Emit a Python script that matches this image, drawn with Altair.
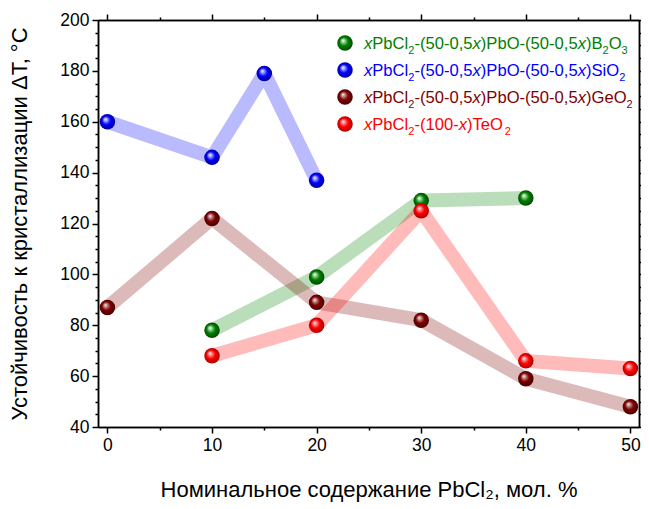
import altair as alt
import pandas as pd

# ---------------- data ----------------
x_b2o3 = [10, 20, 30, 40]
y_b2o3 = [78, 99, 129, 130]
x_sio2 = [0, 10, 15, 20]
y_sio2 = [160, 146, 179, 137]
x_geo2 = [0, 10, 20, 30, 40, 50]
y_geo2 = [87, 122, 89, 82, 59, 48]
x_teo2 = [10, 20, 30, 40, 50]
y_teo2 = [68, 80, 125, 66, 63]

series_names = ["B2O3", "SiO2", "GeO2", "TeO2"]
series_colors = ["#008000", "#0000ff", "#800000", "#ff0000"]
series_light = ["#9fdc9f", "#a8a8ff", "#c79a9a", "#ff9a9a"]
series_dark = ["#004000", "#00008a", "#400000", "#a00000"]

legend_segments = [
    [("x", "i"), ("PbCl", "n"), ("2", "s"), ("-(50-0,5", "n"), ("x", "i"), (")PbO-(50-0,5", "n"),
     ("x", "i"), (")B", "n"), ("2", "s"), ("O", "n"), ("3", "s")],
    [("x", "i"), ("PbCl", "n"), ("2", "s"), ("-(50-0,5", "n"), ("x", "i"), (")PbO-(50-0,5", "n"),
     ("x", "i"), (")SiO", "n"), ("2", "s")],
    [("x", "i"), ("PbCl", "n"), ("2", "s"), ("-(50-0,5", "n"), ("x", "i"), (")PbO-(50-0,5", "n"),
     ("x", "i"), (")GeO", "n"), ("2", "s")],
    [("x", "i"), ("PbCl", "n"), ("2", "s"), ("-(100-", "n"), ("x", "i"), (")TeO", "n"), ("2", "s")],
]

x_title = "Номинальное содержание PbCl\u2082, мол. %"
y_title = "Устойчивость к кристаллизации \u0394T, \u00b0C"

# ---------------- layout ----------------
W, H = 541, 407
PXU = 10.46
X0 = -0.9
X1 = X0 + W / PXU
Y0, Y1 = 40, 200
FONT = "Liberation Sans"
FS = 16.6
FS_SUB = 11


def px2x(px):
    return X0 + px * (X1 - X0) / W


def py2y(py):
    return Y1 - py * (Y1 - Y0) / H


ARIAL = {' ': 278, '(': 333, ')': 333, ',': 278, '-': 333, 'B': 667, 'C': 722, 'G': 778,
         'O': 778, 'P': 667, 'S': 667, 'T': 611, 'b': 556, 'e': 556, 'i': 222, 'l': 222, 'x': 500}


def tw(s, fs):
    return sum(ARIAL.get(c, 556) for c in s) / 1000.0 * fs


xs = alt.Scale(domain=[X0, X1], nice=False, zero=False)
ys = alt.Scale(domain=[Y0, Y1], nice=False, zero=False)

frames = []
for name, xv, yv in zip(series_names, [x_b2o3, x_sio2, x_geo2, x_teo2],
                        [y_b2o3, y_sio2, y_geo2, y_teo2]):
    frames.append(pd.DataFrame({"x": xv, "y": yv, "s": name}))

layers = []

dummy = pd.DataFrame({"x": [0], "y": [100]})
maj_x = list(range(0, 51, 10))
min_x = [v for v in range(5, 51, 10)]
maj_y = list(range(40, 201, 20))
min_y = [v for v in range(40, 201, 5) if v % 20 != 0]


def axis_layer(xorient, yorient, xvals, yvals, labels, tsize):
    return alt.Chart(dummy).mark_point(opacity=0).encode(
        x=alt.X("x:Q", scale=xs,
                axis=alt.Axis(orient=xorient, values=xvals, labels=labels, tickSize=tsize,
                              title=x_title if labels else None, grid=False)),
        y=alt.Y("y:Q", scale=ys,
                axis=alt.Axis(orient=yorient, values=yvals, labels=labels, tickSize=tsize,
                              title=y_title if labels else None, grid=False)),
    )


layers.append(axis_layer("bottom", "left", maj_x, maj_y, True, 6))
layers.append(axis_layer("bottom", "left", min_x, min_y, False, 3))
layers.append(axis_layer("top", "right", maj_x, maj_y, False, 6))
layers.append(axis_layer("top", "right", min_x, min_y, False, 3))

for df, col in zip(frames, series_colors):
    layers.append(alt.Chart(df).mark_line(color=col, opacity=0.27, strokeWidth=14,
                                          strokeJoin="bevel", strokeCap="butt").encode(
        x=alt.X("x:Q", scale=xs, axis=None), y=alt.Y("y:Q", scale=ys, axis=None)))


def sphere(col, light, dark):
    return alt.RadialGradient(
        gradient="radial", x1=0.36, y1=0.33, r1=0.0, x2=0.5, y2=0.5, r2=0.55,
        stops=[alt.GradientStop(color="#ffffff", offset=0.0),
               alt.GradientStop(color=light, offset=0.18),
               alt.GradientStop(color=col, offset=0.5),
               alt.GradientStop(color=dark, offset=1.0)])


for df, col, lt, dk in zip(frames, series_colors, series_light, series_dark):
    layers.append(alt.Chart(df).mark_point(shape="circle", filled=True, size=240, opacity=1,
                                           fill=sphere(col, lt, dk), strokeWidth=0).encode(
        x=alt.X("x:Q", scale=xs, axis=None), y=alt.Y("y:Q", scale=ys, axis=None)))

rows = []
mk = []
for i, (segs, col) in enumerate(zip(legend_segments, series_colors)):
    cy = 23 + 27 * i
    mk.append({"x": px2x(247), "y": py2y(cy), "c": col})
    cur = 266
    for text, st in segs:
        fs = FS_SUB if st == "s" else FS
        base = cy + 6 + (5 if st == "s" else 0)
        rows.append({"x": px2x(cur), "y": py2y(base), "t": text, "st": st, "c": col})
        cur += tw(text, fs)
leg = pd.DataFrame(rows)

for i, col in enumerate(series_colors):
    layers.append(alt.Chart(pd.DataFrame([mk[i]])).mark_point(
        shape="circle", filled=True, size=240, opacity=1,
        fill=sphere(col, series_light[i], series_dark[i]), strokeWidth=0).encode(
        x=alt.X("x:Q", scale=xs, axis=None), y=alt.Y("y:Q", scale=ys, axis=None)))

for st, fs, fstyle in [("n", FS, "normal"), ("i", FS, "italic"), ("s", FS_SUB, "normal")]:
    layers.append(alt.Chart(leg).transform_filter(alt.datum.st == st).mark_text(
        align="left", baseline="alphabetic", font=FONT, fontSize=fs, fontStyle=fstyle).encode(
        x=alt.X("x:Q", scale=xs, axis=None), y=alt.Y("y:Q", scale=ys, axis=None),
        text="t:N", color=alt.Color("c:N", scale=None)))

chart = alt.layer(*layers).resolve_axis(x="independent", y="independent").properties(
    width=W, height=H, autosize="none",
    padding={"left": 90, "top": 12, "right": 2, "bottom": 84},
    background="white",
).configure_view(stroke=None).configure_axis(
    domainColor="black", domainWidth=1.5, tickColor="black", tickWidth=1.5,
    labelFont=FONT, labelFontSize=17.5, labelColor="black", labelPadding=3,
    titleFont=FONT, titleFontSize=22, titleFontWeight="normal", titleColor="black",
).configure_axisBottom(titlePadding=26).configure_axisLeft(titlePadding=28)

chart.save("out.html", embed_options={"renderer": "svg", "actions": False})
